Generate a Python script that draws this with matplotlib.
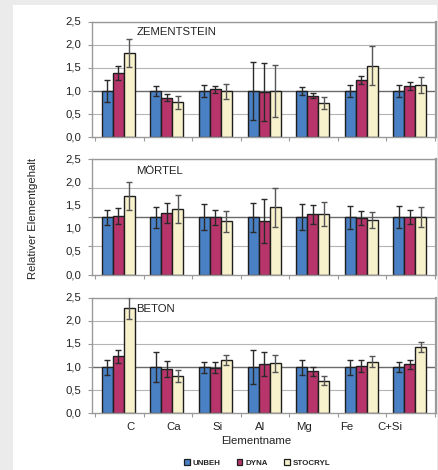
import matplotlib
matplotlib.use("Agg")
import matplotlib.pyplot as plt
from matplotlib.patches import Rectangle, Patch
from matplotlib.transforms import blended_transform_factory
import numpy as np

plt.rcParams['font.family'] = ['Liberation Sans', 'DejaVu Sans']

elements = ["C", "Ca", "Si", "Al", "Mg", "Fe", "C+Si"]
series = ["UNBEH", "DYNA", "STOCRYL"]
colors = ["#4a80c4", "#b8356b", "#f8f2cc"]

# ZEMENTSTEIN
zem_unbeh = [1.0, 1.0, 1.0, 1.0, 1.0, 1.0, 1.0]
zem_dyna = [1.40, 0.86, 1.04, 0.98, 0.90, 1.24, 1.11]
zem_stocryl = [1.82, 0.76, 1.00, 1.00, 0.75, 1.55, 1.13]
zem_err_unbeh = [0.23, 0.10, 0.13, 0.62, 0.09, 0.13, 0.13]
zem_err_dyna = [0.15, 0.07, 0.08, 0.63, 0.05, 0.09, 0.08]
zem_err_stocryl = [0.30, 0.14, 0.16, 0.57, 0.13, 0.42, 0.17]

# MÖRTEL
mor_unbeh = [1.0, 1.0, 1.0, 1.0, 1.0, 1.0, 1.0]
mor_dyna = [1.02, 1.07, 1.00, 0.93, 1.05, 0.98, 1.00]
mor_stocryl = [1.37, 1.14, 0.93, 1.17, 1.05, 0.95, 1.00]
mor_err_unbeh = [0.13, 0.18, 0.22, 0.25, 0.23, 0.20, 0.19]
mor_err_dyna = [0.14, 0.17, 0.13, 0.38, 0.16, 0.12, 0.12]
mor_err_stocryl = [0.24, 0.24, 0.18, 0.34, 0.21, 0.14, 0.17]

# BETON
bet_unbeh = [1.0, 1.0, 1.0, 1.0, 1.0, 1.0, 1.0]
bet_dyna = [1.23, 0.96, 0.99, 1.06, 0.91, 1.03, 1.06]
bet_stocryl = [2.27, 0.80, 1.16, 1.08, 0.71, 1.12, 1.43]
bet_err_unbeh = [0.16, 0.33, 0.12, 0.37, 0.16, 0.16, 0.10]
bet_err_dyna = [0.15, 0.18, 0.11, 0.26, 0.10, 0.13, 0.09]
bet_err_stocryl = [0.24, 0.13, 0.11, 0.19, 0.10, 0.11, 0.11]

ytick_labels = ["0,0", "0,5", "1,0", "1,5", "2,0", "2,5"]

panels = [
    ("ZEMENTSTEIN", [zem_unbeh, zem_dyna, zem_stocryl],
     [zem_err_unbeh, zem_err_dyna, zem_err_stocryl], 2.5, 2.27),
    ("MÖRTEL", [mor_unbeh, mor_dyna, mor_stocryl],
     [mor_err_unbeh, mor_err_dyna, mor_err_stocryl], 2.0, 1.79),
    ("BETON", [bet_unbeh, bet_dyna, bet_stocryl],
     [bet_err_unbeh, bet_err_dyna, bet_err_stocryl], 2.5, 2.25),
]

W, H = 438, 470
fig = plt.figure(figsize=(W / 100, H / 100), dpi=100)
fig.patch.set_facecolor("#ebebeb")
fig.add_artist(Rectangle((13 / W, 0), (437 - 13) / W, (465) / H,
                         transform=fig.transFigure, facecolor="white",
                         edgecolor="none", zorder=0))

ax_tops = [21.7, 159.3, 297.7]
ax_h = 115.7
left_px, right_px = 92, 435.5
fs = 8.2

x = np.arange(len(elements))
bw = 0.226
offsets = [-bw, 0, bw]
grid_c = "#b5b5b5"
spine_c = "#9a9a9a"
txt_c = "#222222"

axes = []
for (title, vals, errs, ymax, ty), top in zip(panels, ax_tops):
    ax = fig.add_axes([left_px / W, (H - top - ax_h) / H,
                       (right_px - left_px) / W, ax_h / H])
    axes.append(ax)
    ax.set_facecolor("none")
    ax.set_xlim(-0.562, 6.51)
    ax.set_ylim(0, ymax)
    grid_vals = np.arange(0.5, ymax + 0.01, 0.5)
    for g in grid_vals:
        is_one = abs(g - 1.0) < 1e-6
        ax.axhline(g, color="#6a6a6a" if is_one else grid_c,
                   lw=1.0 if is_one else 0.8, zorder=1)
    for i in range(3):
        ec = "#2a2a2a" if i < 2 else "#555555"
        ax.bar(x - 0.02 + offsets[i], vals[i], bw, color=colors[i],
               edgecolor="#1e1e1e", linewidth=1.0, zorder=2)
        ax.errorbar(x - 0.02 + offsets[i], vals[i], yerr=errs[i], fmt="none",
                    ecolor=ec, elinewidth=1.0, capsize=2.4, capthick=1.0,
                    zorder=3)
    for s in ax.spines.values():
        s.set_color(spine_c)
        s.set_linewidth(1.0)
    ax.spines["right"].set_linewidth(1.6)
    # y ticks (marks at gridlines, labels spread evenly as in the source)
    ax.set_yticks(np.arange(0, ymax + 0.01, 0.5))
    ax.set_yticklabels([])
    ax.tick_params(axis="y", which="major", length=3, color=spine_c, width=0.8)
    label_pos = np.linspace(0, ymax, len(ytick_labels))
    ytrans = blended_transform_factory(fig.transFigure, ax.transData)
    for lp, lab in zip(label_pos, ytick_labels):
        ax.text(81 / W, lp, lab, transform=ytrans, ha="right", va="center",
                fontsize=fs, color=txt_c)
    # x ticks at category boundaries
    ax.set_xticks(np.arange(-0.5, len(elements), 1.0))
    ax.set_xticklabels([])
    ax.tick_params(axis="x", which="major", length=3, color=spine_c,
                   width=0.8, direction="out")
    ax.text(0.35, ty, title, fontsize=fs, color=txt_c, va="center",
            ha="left", zorder=4)

# element labels on the bottom panel
label_x = 0.24 + 0.889 * np.arange(len(elements))
trans = blended_transform_factory(axes[2].transData, fig.transFigure)
for lx, name in zip(label_x, elements):
    axes[2].text(lx, (H - 426.7) / H, name, transform=trans, ha="center",
                 va="center", fontsize=fs, color=txt_c)

fig.text(256.7 / W, (H - 441.5) / H, "Elementname", ha="center",
         va="center", fontsize=fs, color=txt_c)
fig.text(33 / W, (H - 218) / H, "Relativer Elementgehalt", ha="center",
         va="center", rotation=90, fontsize=fs, color=txt_c)

handles = [Patch(facecolor=c, edgecolor="#1e1e1e", linewidth=0.9)
           for c in colors]
fig.legend(handles, series, loc="center", ncol=3,
           bbox_to_anchor=(257 / W, (H - 462.7) / H), frameon=False,
           prop={"size": 5.7, "weight": "bold"}, handlelength=0.75,
           handleheight=0.75, handletextpad=0.35, columnspacing=2.0,
           labelcolor=txt_c)

fig.savefig("out.png", dpi=100, facecolor=fig.get_facecolor())
